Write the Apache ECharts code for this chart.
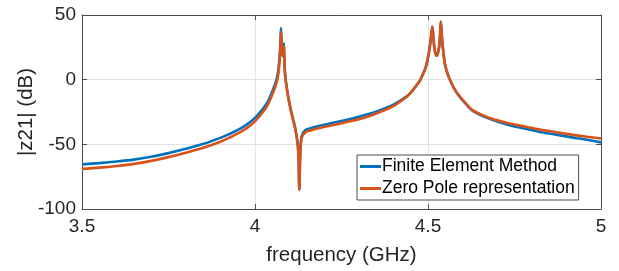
<!DOCTYPE html>
<html>
<head>
<meta charset="utf-8">
<script src="https://cdn.jsdelivr.net/npm/echarts@6/dist/echarts.min.js"></script>
<style>
  html, body { margin: 0; padding: 0; background: #fff; }
  #chart { width: 619px; height: 271px; }
</style>
</head>
<body>
<div id="chart"></div>
<script>
// frequency points (GHz)
const freq = [
  3.50, 3.55, 3.60, 3.65, 3.70, 3.75, 3.80, 3.85, 3.90, 3.93,
  3.96, 3.98, 4.00, 4.02, 4.035, 4.05, 4.06, 4.066, 4.070, 4.073,
  4.075, 4.078, 4.081, 4.083, 4.086, 4.089, 4.096, 4.106, 4.116, 4.123,
  4.126, 4.128, 4.131, 4.135, 4.145, 4.16, 4.19, 4.226, 4.275, 4.323,
  4.36, 4.40, 4.43, 4.448, 4.465, 4.477, 4.49, 4.496, 4.502, 4.507,
  4.5125, 4.517, 4.520, 4.525, 4.530, 4.534, 4.537, 4.541, 4.545, 4.549,
  4.556, 4.564, 4.575, 4.588, 4.61, 4.63, 4.68, 4.73, 4.78, 4.82,
  4.87, 4.92, 4.96, 5.00
];
// |z21| in dB, Finite Element Method
const femDb = [
  -65.5, -64.5, -63.3, -61.8, -59.6, -56.8, -53.5, -49.8, -45, -41.5,
  -37.5, -34, -29.5, -23.5, -18, -9, -2, 5, 14, 26,
  40, 22, 20, 28, 8, -0.5, -13, -26, -37, -48.5,
  -60, -85, -55, -43.5, -39, -37.6, -35.4, -33.3, -30.5, -27,
  -23.8, -19.4, -14.5, -10.6, -5, -0.5, 7, 12, 20, 29,
  41, 28, 22, 18.5, 22, 30, 45, 30, 20, 12,
  5, -0.5, -6.5, -12, -19, -24.3, -30.5, -34.8, -37.8, -40.2,
  -42.5, -44.8, -46.5, -48.5
];
// |z21| in dB, Zero Pole representation
const zpDb = [
  -69, -68, -66.7, -65.1, -62.8, -59.9, -56.5, -52.7, -48, -44.3,
  -40.2, -36.8, -32.3, -26, -20.5, -11.5, -4.5, 2, 11, 22,
  37, 20, 18, 26, 7, -1.5, -14, -27, -38, -49.5,
  -62, -85, -57, -45, -40.8, -39.3, -37.1, -35.1, -32.2, -28.8,
  -25.2, -20.5, -15, -10.8, -5, -0.5, 7, 12, 20, 29,
  41, 28, 22, 18.5, 22, 30, 45, 30, 20, 12,
  5, -0.5, -6.5, -11.7, -18.5, -23.8, -29.8, -33.5, -36.2, -38.4,
  -40.6, -42.7, -44.2, -45.5
];
const xTicks = [3.5, 4, 4.5, 5];
const yTicks = [-100, -50, 0, 50];

const seriesNames = ['Finite Element Method', 'Zero Pole representation'];
const zip = (ys) => freq.map((f, i) => [f, ys[i]]);

let myChart = echarts.init(document.getElementById('chart'));
const textColor = '#262626';
const axisColor = '#4d4d4d';
const font = 'Liberation Sans, Arial, Helvetica, sans-serif';

// top / right axes only draw the box and the inward ticks
const boxAxis = {
  axisLine: { show: true, onZero: false, lineStyle: { color: axisColor, width: 1 } },
  axisTick: { show: true, inside: true, length: 5, lineStyle: { color: axisColor } },
  axisLabel: { show: false },
  splitLine: { show: false }
};

myChart.setOption({
  animation: false,
  backgroundColor: '#fff',
  textStyle: { fontFamily: font },
  grid: { left: 82, right: 18, top: 15, bottom: 58 },
  legend: {
    data: seriesNames,
    orient: 'vertical',
    left: 357,
    top: 155,
    icon: 'rect',
    itemWidth: 21,
    itemHeight: 3,
    itemGap: 3,
    padding: [2, 4, 2, 3],
    borderColor: axisColor,
    borderWidth: 1,
    borderRadius: 0,
    backgroundColor: '#fff',
    textStyle: { fontSize: 17.5, color: '#000', fontFamily: font, padding: [0, 0, 0, -4], lineHeight: 19 }
  },
  xAxis: [
    {
      type: 'value',
      min: 3.5, max: 5, interval: 0.5,
      name: 'frequency (GHz)',
      nameLocation: 'middle',
      nameGap: 36,
      nameMoveOverlap: false,
      nameTextStyle: { fontSize: 20.5, color: textColor },
      axisLine: { show: true, onZero: false, lineStyle: { color: axisColor } },
      axisTick: { show: true, inside: true, length: 5, lineStyle: { color: axisColor } },
      axisLabel: {
        fontSize: 19, color: textColor, margin: 8,
        formatter: (v) => xTicks.includes(v) ? String(v) : ''
      },
      splitLine: { show: true, lineStyle: { color: '#e3e3e3', width: 1 } }
    },
    Object.assign({ type: 'value', position: 'top', min: 3.5, max: 5, interval: 0.5 }, boxAxis)
  ],
  yAxis: [
    {
      type: 'value',
      min: -100, max: 50, interval: 50,
      name: '|z21| (dB)',
      nameLocation: 'middle',
      nameGap: 45,
      nameMoveOverlap: false,
      nameTextStyle: { fontSize: 20.5, color: textColor },
      axisLine: { show: true, onZero: false, lineStyle: { color: axisColor } },
      axisTick: { show: true, inside: true, length: 5, lineStyle: { color: axisColor } },
      axisLabel: {
        fontSize: 19, color: textColor, margin: 6,
        formatter: (v) => yTicks.includes(v) ? String(v) : ''
      },
      splitLine: { show: true, lineStyle: { color: '#e3e3e3', width: 1 } }
    },
    Object.assign({ type: 'value', position: 'right', min: -100, max: 50, interval: 50 }, boxAxis)
  ],
  series: [
    {
      name: seriesNames[0],
      type: 'line',
      data: zip(femDb),
      showSymbol: false,
      smooth: 0.3,
      color: '#0072BD',
      lineStyle: { width: 2.6 },
      z: 2
    },
    {
      name: seriesNames[1],
      type: 'line',
      data: zip(zpDb),
      showSymbol: false,
      smooth: 0.3,
      color: '#D95319',
      lineStyle: { width: 2.6 },
      z: 3
    }
  ]
});

window.onresize = function () {
  myChart.resize();
};
</script>
</body>
</html>
